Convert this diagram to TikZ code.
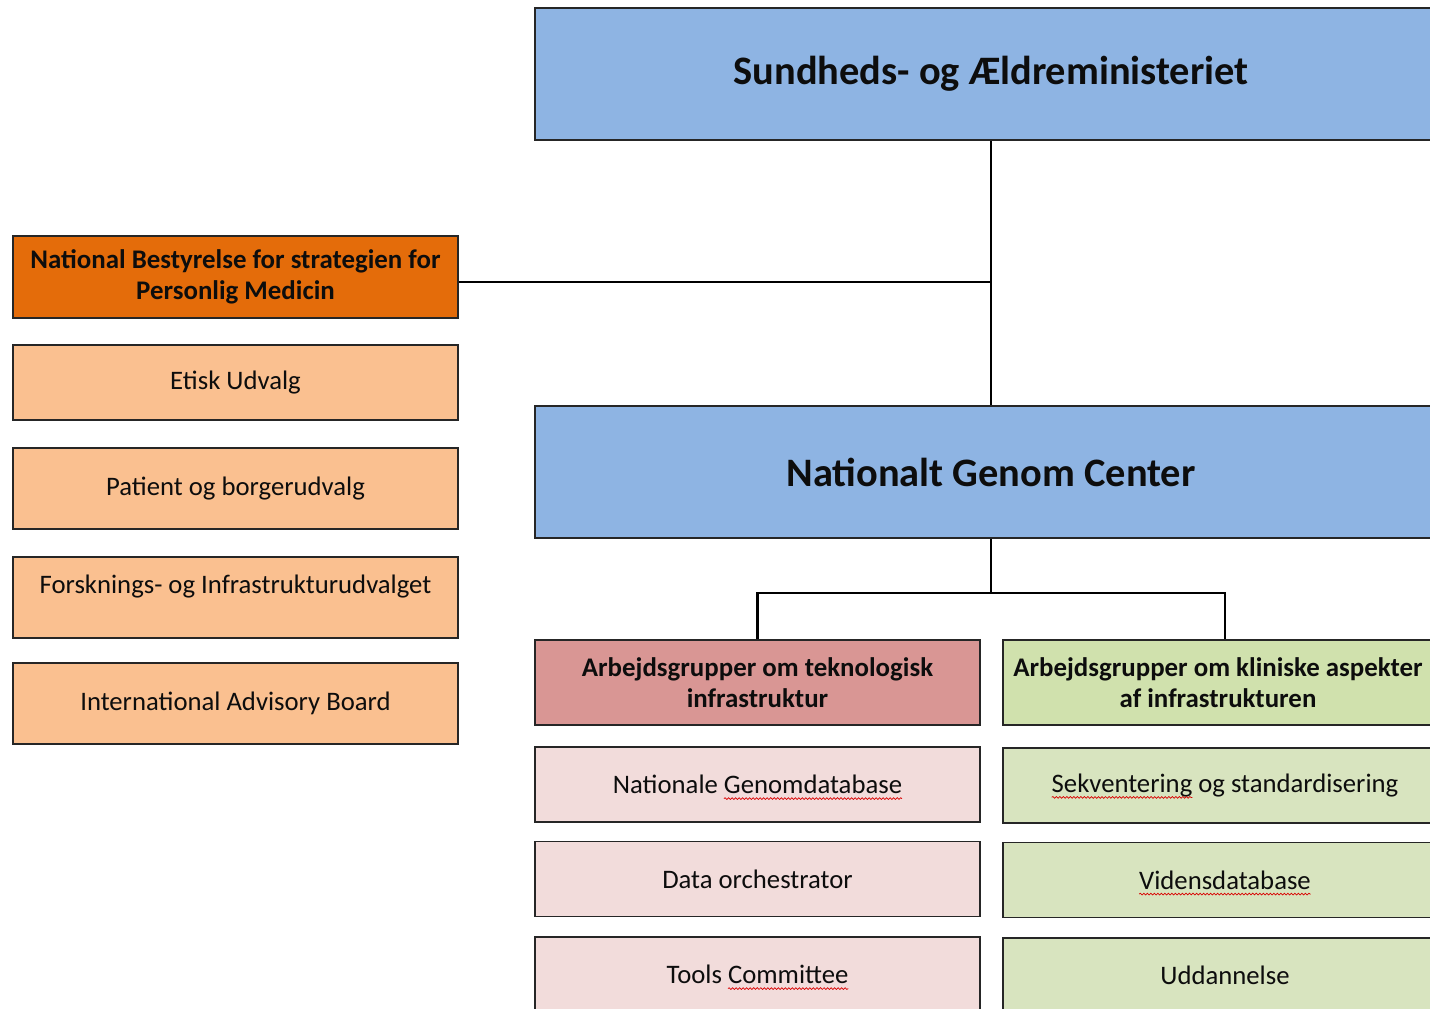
\documentclass[tikz,border=0pt]{standalone}
\usepackage{fontspec}
\setmainfont{Carlito}
\usetikzlibrary{calc,decorations.pathmorphing}

\definecolor{minblue}{HTML}{8EB4E3}
\definecolor{nbdark}{HTML}{E46C0A}
\definecolor{nblight}{HTML}{FAC090}
\definecolor{tekhead}{HTML}{D99694}
\definecolor{teklight}{HTML}{F2DCDB}
\definecolor{klinhead}{HTML}{D0E1AD}
\definecolor{klinlight}{HTML}{D8E4BF}

% red wavy underline (spelling marks)
\newcommand\spellmark[1]{\tikz[baseline=(w.base)]{%
  \node[draw=none, fill=none, inner sep=0pt, outer sep=0pt,
    minimum width=0pt, minimum height=0pt] (w) {#1};
  \draw[overlay, red!85!black, line width=0.4pt, decorate,
    decoration={snake, amplitude=0.5pt, segment length=2pt}]
    ([yshift=-2.8pt]w.base west) -- ([yshift=-2.8pt]w.base east);}}

\tikzset{
  box/.style={draw=black!85, line width=1pt, align=center, inner sep=2pt,
    font=\fontsize{15.2}{17.6}\selectfont, text=black!95},
  headbox/.style={box, font=\fontsize{15.3}{17.6}\selectfont\bfseries},
  bigbox/.style={box, fill=minblue, minimum width=18.24cm, minimum height=2.64cm,
    font=\fontsize{23}{27}\selectfont\bfseries},
  leftbox/.style={box, fill=nblight, minimum width=8.9cm},
  tekbox/.style={box, fill=teklight, minimum width=8.9cm, minimum height=1.5cm},
  klinbox/.style={box, fill=klinlight, minimum width=8.88cm, minimum height=1.5cm},
  conn/.style={draw=black, line width=1.3pt}
}

\begin{document}
\begin{tikzpicture}[x=0.02cm,y=-0.02cm]
\clip (0,0) rectangle (1430,1008);

% ministry and center
\node[bigbox] (min) at (991,74) {Sundheds- og Ældreministeriet};
\node[bigbox] (ngc) at (991,472) {Nationalt Genom Center};

% left column
\node[headbox, fill=nbdark, minimum width=8.9cm, minimum height=1.64cm]
  (nb) at (235.5,277) {National Bestyrelse for strategien for\\Personlig Medicin};
\node[leftbox, minimum height=1.5cm] (etisk) at (235.5,382.5) {Etisk Udvalg};
\node[leftbox, minimum height=1.62cm] (patient) at (235.5,488.5) {Patient og borgerudvalg};
\node[leftbox, minimum height=1.62cm, text depth=0.55cm] (forsk) at (235.5,597.5)
  {Forsknings- og Infrastrukturudvalget};
\node[leftbox, minimum height=1.62cm] (intl) at (235.5,703.5) {International Advisory Board};

% working groups
\node[headbox, fill=tekhead, minimum width=8.9cm, minimum height=1.7cm]
  (tek) at (757.5,682.5) {Arbejdsgrupper om teknologisk\\infrastruktur};
\node[headbox, fill=klinhead, minimum width=8.6cm, minimum height=1.7cm]
  (klin) at (1218,682.5) {Arbejdsgrupper om kliniske aspekter\\af infrastrukturen};

\node[tekbox] (genomdb) at (757.5,784.5) {Nationale \spellmark{Genomdatabase}};
\node[tekbox] (orch) at (757.5,879) {Data orchestrator};
\node[tekbox] (tools) at (757.5,974.5) {Tools \spellmark{Committee}};

\node[klinbox] (sekv) at (1225,785.5) {\spellmark{Sekventering} og standardisering};
\node[klinbox] (videns) at (1225,880) {\spellmark{Vidensdatabase}};
\node[klinbox] (udd) at (1225,975.5) {Uddannelse};

% connectors
\draw[conn] (min.south) -- (ngc.north);
\draw[conn] ([yshift=-0.1cm]nb.east) -- ([yshift=-0.1cm]nb.east -| min.south);
\coordinate (split) at ($(ngc.south)+(0,54)$);
\draw[conn] (ngc.south) -- (split);
\draw[conn] (tek.north) |- (split) -| ([xshift=0.14cm]klin.north);
\end{tikzpicture}
\end{document}
